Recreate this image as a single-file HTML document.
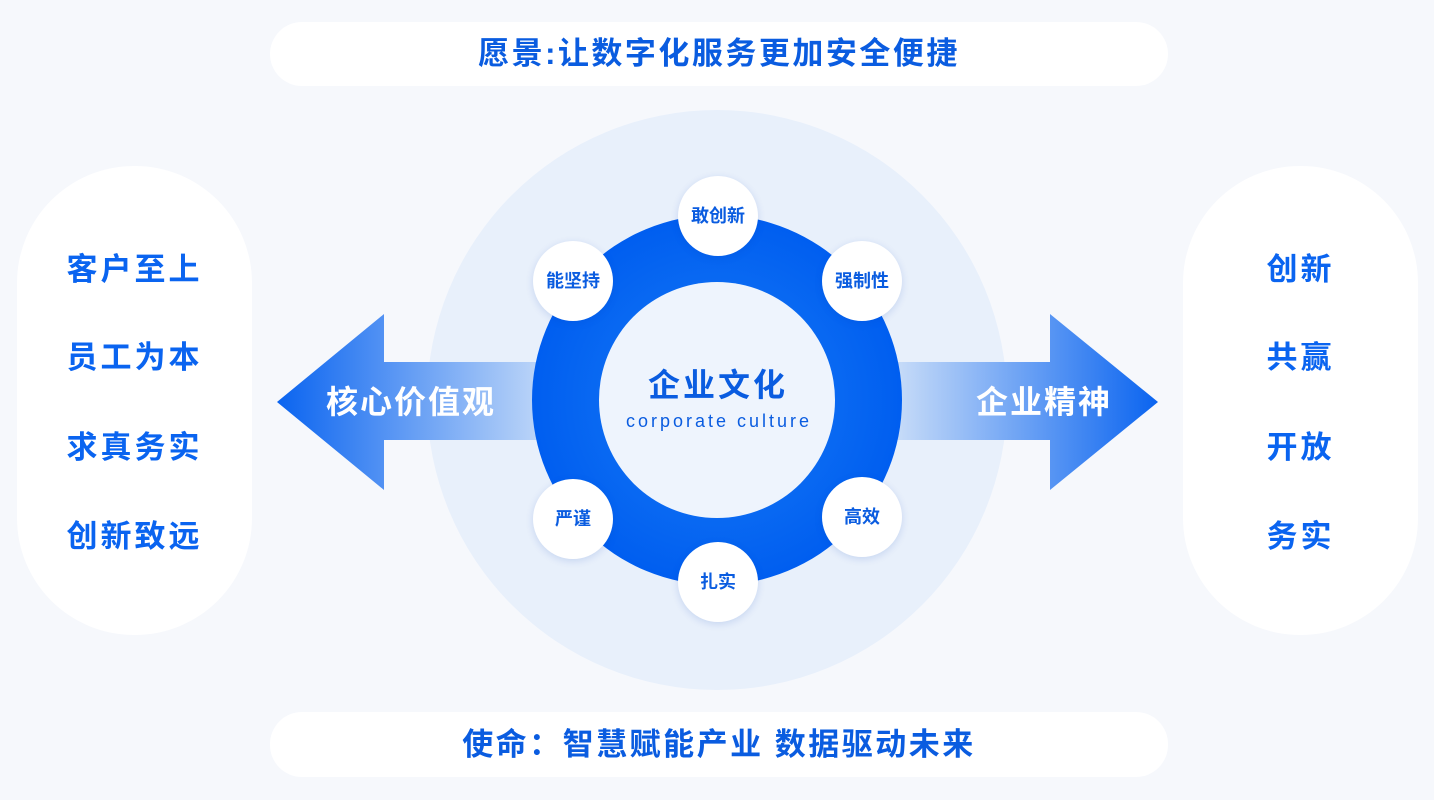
<!DOCTYPE html>
<html><head><meta charset="utf-8"><style>
body{margin:0;width:1434px;height:800px;background:#f6f8fc;position:relative;overflow:hidden;font-family:"Liberation Sans","Noto Sans CJK SC",sans-serif;}
.ban{position:absolute;left:270px;width:898px;height:64px;border-radius:32px;background:#fff;color:#0a5ce0;font-size:31px;font-weight:bold;text-align:center;line-height:64px;letter-spacing:2.5px}
.side{position:absolute;top:166px;width:235px;height:469px;border-radius:117px;background:#fff}
.side div{position:absolute;left:0;width:100%;text-align:center;color:#0a64f0;font-size:31px;font-weight:bold;letter-spacing:3px;line-height:40px}
.sc{position:absolute;width:80px;height:80px;border-radius:50%;background:#fff;box-shadow:0 2px 8px rgba(0,60,180,.15);color:#0a5ce0;font-size:18px;text-align:center;line-height:80px;font-weight:600}
</style></head><body>
<div class="ban" style="top:22px">愿景:让数字化服务更加安全便捷</div>
<div class="ban" style="top:712px;height:65px;line-height:65px">使命：智慧赋能产业 数据驱动未来</div>
<div class="side" style="left:17px"><div style="top:84px">客户至上</div><div style="top:172px">员工为本</div><div style="top:262px">求真务实</div><div style="top:351px">创新致远</div></div>
<div class="side" style="left:1183px"><div style="top:84px">创新</div><div style="top:172px">共赢</div><div style="top:262px">开放</div><div style="top:351px">务实</div></div>
<svg style="position:absolute;left:0;top:0" width="1434" height="800">
<defs>
<linearGradient id="gl" x1="277" x2="540" y1="0" y2="0" gradientUnits="userSpaceOnUse"><stop offset="0" stop-color="#0a64f0"/><stop offset="1" stop-color="#bcd5f8"/></linearGradient>
<linearGradient id="gr" x1="898" x2="1158" y1="0" y2="0" gradientUnits="userSpaceOnUse"><stop offset="0" stop-color="#c6dbf8"/><stop offset="1" stop-color="#0a64f0"/></linearGradient>
<radialGradient id="rg"><stop offset="0.6" stop-color="#0a6af2"/><stop offset="1" stop-color="#005ef0"/></radialGradient>
</defs>
<circle cx="717" cy="400" r="290" fill="#e8f0fb"/>
<polygon points="277,402 384,314 384,362 545,362 545,440 384,440 384,490" fill="url(#gl)"/>
<polygon points="1158,402 1050,314 1050,362 890,362 890,440 1050,440 1050,490" fill="url(#gr)"/>
<circle cx="717" cy="400" r="185" fill="url(#rg)"/>
<circle cx="717" cy="400" r="118" fill="#eef4fd"/>
<text x="718" y="396" text-anchor="middle" font-size="32" font-weight="bold" fill="#0a5ce0" font-family="Liberation Sans,Noto Sans CJK SC,sans-serif" letter-spacing="3">企业文化</text>
<text x="719" y="427" text-anchor="middle" font-size="18" fill="#0a5ce0" font-family="Liberation Sans,sans-serif" letter-spacing="3">corporate culture</text>
<text x="411" y="413" text-anchor="middle" font-size="32" font-weight="bold" fill="#fff" font-family="Liberation Sans,Noto Sans CJK SC,sans-serif" letter-spacing="2">核心价值观</text>
<text x="1044" y="413" text-anchor="middle" font-size="32" font-weight="bold" fill="#fff" font-family="Liberation Sans,Noto Sans CJK SC,sans-serif" letter-spacing="2">企业精神</text>
</svg>
<div class="sc" style="left:678px;top:176px">敢创新</div>
<div class="sc" style="left:533px;top:241px">能坚持</div>
<div class="sc" style="left:822px;top:241px">强制性</div>
<div class="sc" style="left:533px;top:479px">严谨</div>
<div class="sc" style="left:822px;top:477px">高效</div>
<div class="sc" style="left:678px;top:542px">扎实</div>
</body></html>
